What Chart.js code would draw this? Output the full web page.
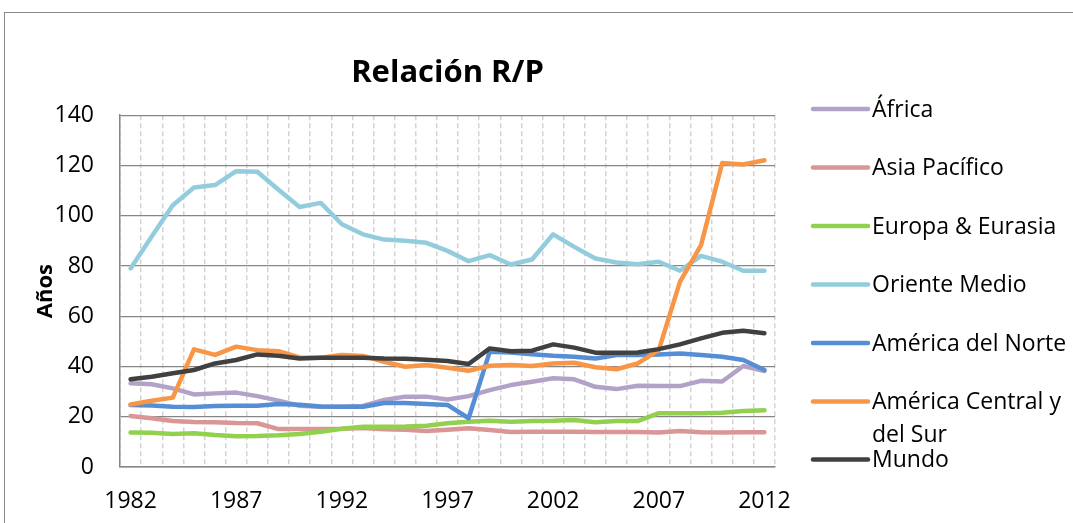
<!DOCTYPE html>
<html>
<head>
<meta charset="utf-8">
<title>Relación R/P</title>
<script src="https://cdn.jsdelivr.net/npm/chart.js@4"></script>
<style>
    html, body { margin: 0; padding: 0; background: #fff; }
    canvas { display: block; }
</style>
</head>
<body>
<canvas id="rpChart" width="1073" height="523"></canvas>
<script>
// Data
const years = [1982, 1983, 1984, 1985, 1986, 1987, 1988, 1989, 1990, 1991, 1992,
    1993, 1994, 1995, 1996, 1997, 1998, 1999, 2000, 2001, 2002, 2003, 2004, 2005,
    2006, 2007, 2008, 2009, 2010, 2011, 2012];
const yTicks = [0, 20, 40, 60, 80, 100, 120, 140];

const africa = [33.3, 32.9, 31.3, 28.9, 29.3, 29.6, 28.2, 26.4, 24.4, 24.0, 24.0, 24.3, 26.7, 28.0, 28.0, 26.9,
    28.2, 30.6, 32.6, 33.9, 35.3, 34.9, 31.9, 31.0, 32.3, 32.2, 32.2, 34.3, 34.0, 40.2, 38.2];
const asiaPacifico = [20.3, 19.4, 18.3, 17.9, 17.8, 17.5, 17.4, 15.1, 15.1, 15.1, 15.2, 15.5, 15.0, 14.8, 14.3, 14.8,
    15.4, 14.7, 13.9, 14.0, 14.0, 14.0, 13.9, 13.9, 13.9, 13.7, 14.3, 13.8, 13.7, 13.8, 13.8];
const europa = [13.7, 13.6, 13.1, 13.4, 12.7, 12.2, 12.3, 12.6, 13.1, 14.0, 15.2, 16.0, 16.0, 16.1, 16.4, 17.4,
    18.0, 18.4, 18.0, 18.3, 18.4, 18.7, 17.8, 18.3, 18.3, 21.4, 21.4, 21.4, 21.6, 22.3, 22.6];
const orienteMedio = [79.0, 91.7, 104.2, 111.2, 112.2, 117.7, 117.5, 110.3, 103.5, 105.1, 96.6, 92.6, 90.5, 90.0, 89.2, 86.0,
    81.9, 84.3, 80.6, 82.6, 92.6, 87.6, 83.0, 81.4, 80.7, 81.7, 78.1, 84.0, 81.7, 78.1, 78.1];
const americaNorte = [24.7, 24.5, 24.0, 23.9, 24.3, 24.4, 24.4, 25.1, 24.8, 24.1, 24.0, 24.0, 25.5, 25.5, 25.1, 24.7,
    19.4, 45.9, 45.6, 44.9, 44.3, 43.9, 43.2, 44.6, 44.6, 44.8, 45.2, 44.6, 43.9, 42.6, 38.6];
const americaCentralSur = [24.9, 26.4, 27.6, 46.8, 44.6, 47.9, 46.5, 46.1, 43.6, 43.5, 44.6, 44.2, 41.9, 39.9, 40.6, 39.5,
    38.3, 40.3, 40.6, 40.2, 41.2, 41.5, 39.7, 38.9, 41.2, 46.5, 73.7, 88.3, 121.0, 120.4, 122.1];
const mundo = [34.9, 35.9, 37.3, 38.6, 41.2, 42.6, 44.8, 44.3, 43.2, 43.5, 43.5, 43.5, 43.2, 43.1, 42.7, 42.2,
    41.0, 47.2, 46.1, 46.3, 48.8, 47.5, 45.5, 45.5, 45.6, 46.9, 48.8, 51.2, 53.4, 54.2, 53.2];

const seriesNames = ['África', 'Asia Pacífico', 'Europa & Eurasia', 'Oriente Medio',
    'América del Norte', 'América Central y del Sur', 'Mundo'];
const seriesValues = [africa, asiaPacifico, europa, orienteMedio, americaNorte, americaCentralSur, mundo];
const seriesColors = ['#b3a2c7', '#d99694', '#92d050', '#93cddd', '#558ed5', '#f79646', '#404040'];

const FONT = "'Open Sans', 'Noto Sans', sans-serif";

// Outer frame + white background
const framePlugin = {
    id: 'frame',
    beforeDraw(chart) {
        const ctx = chart.ctx;
        ctx.save();
        ctx.fillStyle = '#fff';
        ctx.fillRect(0, 0, chart.width, chart.height);
        ctx.strokeStyle = '#898989';
        ctx.lineWidth = 1;
        ctx.strokeRect(4.5, 12.5, chart.width + 50, chart.height + 50);
        ctx.restore();
    }
};

// Legend drawn on the right like the original (one item per row, wrapped text)
const sideLegend = {
    id: 'sideLegend',
    afterDraw(chart) {
        const ctx = chart.ctx;
        const lineX0 = 813, lineX1 = 868, textX = 872;
        const maxW = chart.width - textX - 2;
        ctx.save();
        ctx.font = "23px " + FONT;
        ctx.textBaseline = 'middle';
        ctx.textAlign = 'left';
        let y = 109;
        chart.data.datasets.forEach((ds, i) => {
            // wrap words
            const words = ds.label.split(' ');
            const lines = [];
            let cur = '';
            words.forEach(w => {
                const test = cur ? cur + ' ' + w : w;
                if (ctx.measureText(test).width > maxW && cur) {
                    lines.push(cur);
                    cur = w;
                } else {
                    cur = test;
                }
            });
            lines.push(cur);

            ctx.strokeStyle = ds.borderColor;
            ctx.lineWidth = 4.5;
            ctx.lineCap = 'round';
            ctx.beginPath();
            ctx.moveTo(lineX0, y);
            ctx.lineTo(lineX1, y);
            ctx.stroke();

            ctx.fillStyle = '#000';
            lines.forEach((ln, k) => {
                ctx.fillText(ln, textX, y + 1 + k * 33);
            });
            y += lines.length > 1 ? 58 : 58.5;
        });
        ctx.restore();
    }
};

document.addEventListener('DOMContentLoaded', function() {
    const ctx = document.getElementById('rpChart');

    const datasets = seriesNames.map((name, i) => ({
        label: name,
        data: seriesValues[i],
        borderColor: seriesColors[i],
        backgroundColor: seriesColors[i],
        borderWidth: 4.5,
        borderCapStyle: 'round',
        borderJoinStyle: 'round',
        pointRadius: 0,
        pointHoverRadius: 0,
        tension: 0,
        fill: false,
        order: seriesNames.length - 1 - i
    }));

    new Chart(ctx, {
        type: 'line',
        data: {
            labels: years.map(String),
            datasets: datasets
        },
        options: {
            responsive: false,
            devicePixelRatio: 1,
            animation: false,
            layout: {
                padding: { left: 0, right: 298, top: 0, bottom: 0 }
            },
            plugins: {
                legend: { display: false },
                tooltip: { enabled: false },
                title: {
                    display: true,
                    text: 'Relación R/P',
                    fullSize: false,
                    color: '#000',
                    font: { family: FONT, size: 31, weight: 'bold' },
                    padding: { top: 55, bottom: 23 }
                }
            },
            scales: {
                x: {
                    type: 'category',
                    offset: true,
                    grid: {
                        offset: true,
                        display: true,
                        drawTicks: false,
                        color: '#d4d4d4',
                        lineWidth: 1.5
                    },
                    border: { display: true, color: '#868686', width: 1.5, dash: [5, 3] },
                    ticks: {
                        autoSkip: false,
                        maxRotation: 0,
                        padding: 21,
                        color: '#000',
                        font: { family: FONT, size: 23 },
                        callback: function(val, idx) {
                            return (years[idx] - years[0]) % 5 === 0 ? String(years[idx]) : '';
                        }
                    },
                    afterFit: function(scale) { scale.height = 56; }
                },
                y: {
                    min: 0,
                    max: 140,
                    afterBuildTicks: function(scale) {
                        scale.ticks = yTicks.map(v => ({ value: v }));
                    },
                    grid: {
                        drawTicks: false,
                        color: '#868686',
                        lineWidth: 1.3
                    },
                    border: { display: true, color: '#868686', width: 1.5 },
                    ticks: {
                        padding: 26,
                        color: '#000',
                        font: { family: FONT, size: 23 }
                    },
                    title: {
                        display: true,
                        text: 'Años',
                        color: '#000',
                        font: { family: FONT, size: 22, weight: 'bold' },
                        padding: { top: 33, bottom: 0 }
                    },
                    afterFit: function(scale) { scale.width = 120; }
                }
            }
        },
        plugins: [framePlugin, sideLegend]
    });
});
</script>
</body>
</html>
